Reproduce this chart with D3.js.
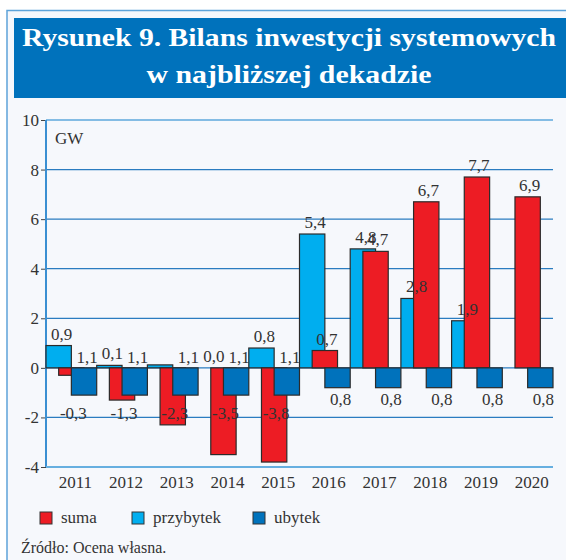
<!DOCTYPE html>
<html>
<head>
<meta charset="utf-8">
<script src="https://cdn.jsdelivr.net/npm/d3@7/dist/d3.min.js"></script>
<style>
  body { margin: 0; background: #fff; }
  svg { display: block; }
</style>
</head>
<body>
<div id="chart"></div>
<script>
const years = ["2011", "2012", "2013", "2014", "2015", "2016", "2017", "2018", "2019", "2020"];
const suma = [-0.3, -1.3, -2.3, -3.5, -3.8, 0.7, 4.7, 6.7, 7.7, 6.9];
const przybytek = [0.9, 0.1, 0.12, 0.0, 0.8, 5.4, 4.8, 2.8, 1.9, 0.0];
const przybytekShown = [true, true, false, true, true, true, true, true, true, false];
const ubytek = [-1.1, -1.1, -1.1, -1.1, -1.1, -0.8, -0.8, -0.8, -0.8, -0.8];
const yTicks = [-4, -2, 0, 2, 4, 6, 8, 10];

const W = 566, H = 560;
const colors = { suma: "#ed1c24", przybytek: "#00aeef", ubytek: "#0072bc" };
const serif = "'Liberation Serif', 'DejaVu Serif', serif";
const fmt = v => d3.format(".1f")(Math.abs(v)).replace(".", ",");

const svg = d3.select("#chart").append("svg")
  .attr("width", W).attr("height", H);

// frame
svg.append("rect").attr("x", 7).attr("y", 10.5).attr("width", W).attr("height", H)
  .attr("fill", "#f6f8fc").attr("stroke", "#5ea3d9").attr("stroke-width", 1.5);

// title box
svg.append("rect").attr("x", 14).attr("y", 18).attr("width", W - 14).attr("height", 80)
  .attr("fill", "#0072bc");
const title = svg.append("text").attr("fill", "#fff").attr("font-family", serif)
  .attr("font-weight", "bold").attr("font-size", 25).attr("text-anchor", "middle");
title.append("tspan").attr("x", 289).attr("y", 46)
  .attr("textLength", 534).attr("lengthAdjust", "spacingAndGlyphs")
  .text("Rysunek 9. Bilans inwestycji systemowych");
title.append("tspan").attr("x", 289).attr("y", 83)
  .attr("textLength", 285).attr("lengthAdjust", "spacingAndGlyphs")
  .text("w najbliższej dekadzie");

const x = d3.scaleBand().domain(years).range([46, 553]).padding(0);
const y = d3.scaleLinear().domain([-4, 10]).range([467, 120]);
const bw = x.bandwidth() / 2;

// grid lines
svg.append("g").selectAll("line").data(yTicks.filter(d => d > -4))
  .join("line")
  .attr("x1", 46).attr("x2", 553)
  .attr("y1", d => y(d)).attr("y2", d => y(d))
  .attr("stroke", d => d === 10 ? "#5ea9dd" : "#2a7cc0")
  .attr("stroke-width", d => d === 10 ? 1.6 : 1.3);

// y axis
const yAxis = d3.axisLeft(y).tickValues(yTicks).tickSize(5).tickFormat(d => d);
const gy = svg.append("g").attr("transform", "translate(46,0)").call(yAxis);
gy.select(".domain").remove();
gy.selectAll(".tick line").attr("stroke", "#444");
gy.selectAll(".tick text").attr("font-family", serif).attr("font-size", 17)
  .attr("fill", "#333").attr("x", -7);
svg.append("line").attr("x1", 46).attr("x2", 46).attr("y1", 120).attr("y2", 467)
  .attr("stroke", "#3a8fd2").attr("stroke-width", 2);

svg.append("text").attr("x", 55).attr("y", 144).attr("font-family", serif)
  .attr("font-size", 17).attr("fill", "#333").text("GW");

// bars: przybytek, suma, ubytek (drawn in that order, overlapping)
const series = [
  { key: "przybytek", vals: przybytek, off: 0 },
  { key: "suma", vals: suma, off: bw / 2 },
  { key: "ubytek", vals: ubytek, off: bw }
];
series.forEach(s => {
  svg.append("g").selectAll("rect").data(s.vals.map((v, i) => ({ v, yr: years[i] })))
    .join("rect")
    .filter(d => d.v !== 0)
    .attr("x", d => x(d.yr) + s.off)
    .attr("width", bw)
    .attr("y", d => y(Math.max(0, d.v)))
    .attr("height", d => Math.abs(y(d.v) - y(0)))
    .attr("fill", colors[s.key])
    .attr("stroke", "#2b2b2b").attr("stroke-width", 1.2);
});

// bottom axis line
svg.append("line").attr("x1", 46).attr("x2", 553).attr("y1", 467).attr("y2", 467)
  .attr("stroke", "#66afe0").attr("stroke-width", 2);

// x labels
const xAxis = d3.axisBottom(x).tickSize(0);
const gx = svg.append("g").attr("transform", "translate(4,467)").call(xAxis);
gx.select(".domain").remove();
gx.selectAll(".tick text").attr("font-family", serif).attr("font-size", 17)
  .attr("fill", "#333").attr("dy", "1.05em");

// value labels
const lbl = svg.append("g").attr("font-family", serif).attr("font-size", 17)
  .attr("fill", "#333").attr("text-anchor", "middle");
przybytek.forEach((v, i) => {
  if (!przybytekShown[i]) return;
  lbl.append("text").attr("x", x(years[i]) + bw / 2 + 3).attr("y", y(v) - 6).text(fmt(v));
});
suma.forEach((v, i) => {
  lbl.append("text").attr("x", x(years[i]) + bw + 2)
    .attr("y", v > 0 ? y(v) - 6 : y(-2.05)).text((v < 0 ? "-" : "") + fmt(v));
});
ubytek.forEach((v, i) => {
  lbl.append("text").attr("x", x(years[i]) + bw * 1.5 + 3)
    .attr("y", v < -1 ? y(0) - 5 : y(v) + 17).text(fmt(v));
});

// legend
const legend = [["suma", colors.suma, 40], ["przybytek", colors.przybytek, 132], ["ubytek", colors.ubytek, 253]];
const lg = svg.append("g");
legend.forEach(([name, c, lx]) => {
  lg.append("rect").attr("x", lx).attr("y", 512).attr("width", 12).attr("height", 12)
    .attr("fill", c).attr("stroke", "#333").attr("stroke-width", 1);
  lg.append("text").attr("x", lx + 21).attr("y", 523).attr("font-family", serif)
    .attr("font-size", 17).attr("fill", "#333").text(name);
});

svg.append("text").attr("x", 21).attr("y", 553).attr("font-family", serif)
  .attr("font-size", 16).attr("fill", "#333").text("Źródło: Ocena własna.");
</script>
</body>
</html>
